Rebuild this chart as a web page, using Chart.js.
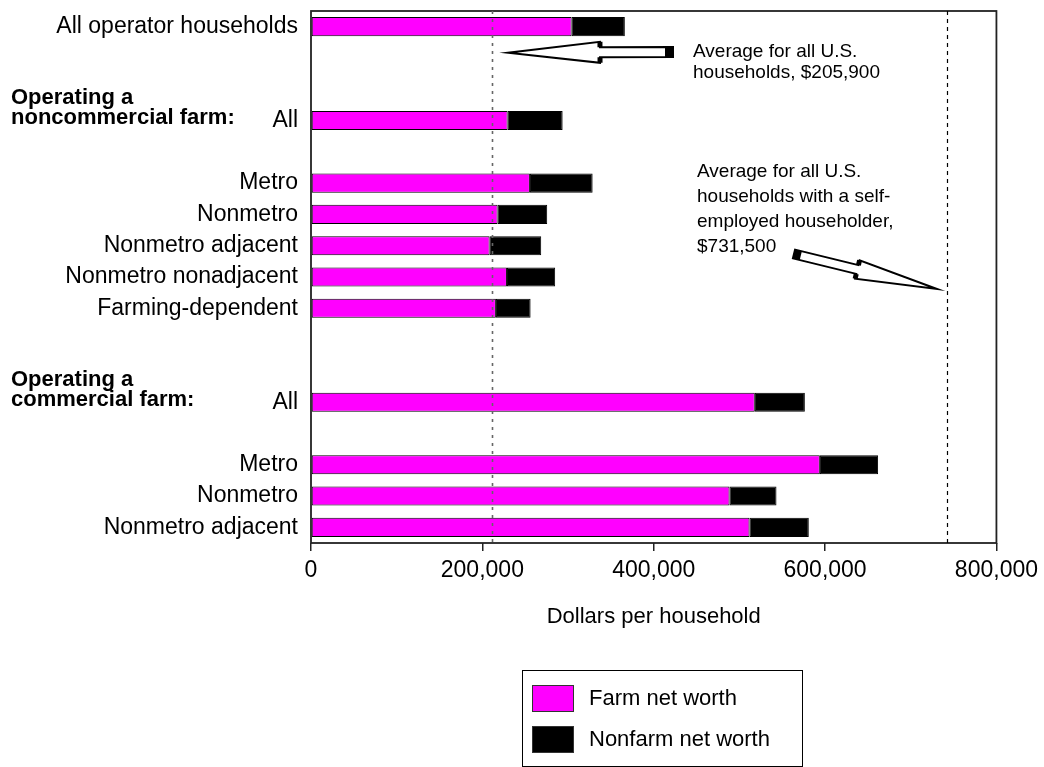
<!DOCTYPE html>
<html>
<head>
<meta charset="utf-8">
<script src="https://cdn.jsdelivr.net/npm/chart.js@4.4.0/dist/chart.umd.min.js"></script>
<style>
  html, body { margin: 0; padding: 0; background: #fff; }
  canvas { display: block; }
</style>
</head>
<body>
<canvas id="worth" width="1044" height="767"></canvas>
<script>
// rows of the chart, blanks are spacer rows
var categories = ["All operator households", "", "", "All", "", "Metro", "Nonmetro", "Nonmetro adjacent",
    "Nonmetro nonadjacent", "Farming-dependent", "", "", "All", "", "Metro", "Nonmetro", "Nonmetro adjacent"];
var farmWorth = [304200, null, null, 229500, null, 255500, 217800, 208500, 228700, 215800, null, null,
    518000, null, 593900, 488500, 511800];
var nonfarmWorth = [62100, null, null, 64200, null, 73200, 57900, 60200, 56300, 40500, null, null,
    58400, null, 68000, 54800, 69200];
var xTicks = [0, 200000, 400000, 600000, 800000];
// dashed reference lines, as drawn
var refLines = [210800, 742400];

var FONT = "'Liberation Sans', Arial, sans-serif";
Chart.defaults.font.family = FONT;
Chart.defaults.color = "#000";

// white block arrow with black tail
function blockArrow(ctx, x0, y0, x1, y1, shaftHalf, headHalf, headLen, tailLen) {
    var dx = x1 - x0, dy = y1 - y0;
    var len = Math.sqrt(dx * dx + dy * dy);
    var ux = dx / len, uy = dy / len;
    var nx = -uy, ny = ux;
    var bx = x1 - ux * headLen, by = y1 - uy * headLen;
    ctx.beginPath();
    ctx.moveTo(x0 + nx * shaftHalf, y0 + ny * shaftHalf);
    ctx.lineTo(bx + nx * shaftHalf, by + ny * shaftHalf);
    ctx.lineTo(bx + nx * headHalf, by + ny * headHalf);
    ctx.lineTo(x1, y1);
    ctx.lineTo(bx - nx * headHalf, by - ny * headHalf);
    ctx.lineTo(bx - nx * shaftHalf, by - ny * shaftHalf);
    ctx.lineTo(x0 - nx * shaftHalf, y0 - ny * shaftHalf);
    ctx.closePath();
    ctx.fillStyle = "#fff";
    ctx.fill();
    ctx.lineWidth = 2;
    ctx.strokeStyle = "#000";
    ctx.lineJoin = "miter";
    ctx.stroke();
    ctx.beginPath();
    ctx.moveTo(x0 + nx * shaftHalf, y0 + ny * shaftHalf);
    ctx.lineTo(x0 + ux * tailLen + nx * shaftHalf, y0 + uy * tailLen + ny * shaftHalf);
    ctx.lineTo(x0 + ux * tailLen - nx * shaftHalf, y0 + uy * tailLen - ny * shaftHalf);
    ctx.lineTo(x0 - nx * shaftHalf, y0 - ny * shaftHalf);
    ctx.closePath();
    ctx.fillStyle = "#000";
    ctx.fill();
    ctx.lineWidth = 5;
    ctx.beginPath();
    ctx.moveTo(bx + nx * shaftHalf, by + ny * shaftHalf);
    ctx.lineTo(bx + nx * headHalf, by + ny * headHalf);
    ctx.moveTo(bx - nx * shaftHalf, by - ny * shaftHalf);
    ctx.lineTo(bx - nx * headHalf, by - ny * headHalf);
    ctx.stroke();
}

var extrasPlugin = {
    id: "extras",
    afterDatasetsDraw: function (chart) {
        var ctx = chart.ctx;
        var a = chart.chartArea;
        var xs = chart.scales.x, ys = chart.scales.y;
        ctx.save();

        // frame
        ctx.strokeStyle = "#222";
        ctx.lineWidth = 1.8;
        ctx.strokeRect(a.left, a.top, a.right - a.left, a.bottom - a.top);

        // reference lines
        var styles = [{ c: "#666", d: [3, 5], w: 1.6 }, { c: "#000", d: [4, 4], w: 1.2 }];
        refLines.forEach(function (v, i) {
            var px = Math.round(xs.getPixelForValue(v)) + 0.5;
            ctx.strokeStyle = styles[i].c;
            ctx.lineWidth = styles[i].w;
            ctx.setLineDash(styles[i].d);
            ctx.beginPath();
            ctx.moveTo(px, a.top);
            ctx.lineTo(px, a.bottom);
            ctx.stroke();
        });
        ctx.setLineDash([]);

        // group headers
        ctx.fillStyle = "#000";
        ctx.font = "bold 22px " + FONT;
        ctx.textAlign = "left";
        ctx.textBaseline = "alphabetic";
        [[3, "noncommercial farm:"], [12, "commercial farm:"]].forEach(function (g) {
            var cy = ys.getPixelForValue(g[0]);
            ctx.fillText("Operating a", 11, cy - 16.5);
            ctx.fillText(g[1], 11, cy + 3.5);
        });

        // notes
        ctx.font = "19px " + FONT;
        ctx.fillText("Average for all U.S.", 693, 57);
        ctx.fillText("households, $205,900", 693, 78);
        var note2 = ["Average for all U.S.", "households with a self-", "employed householder,", "$731,500"];
        note2.forEach(function (t, i) {
            ctx.fillText(t, 697, 176.5 + i * 25.2);
        });
        blockArrow(ctx, 673, 52, 508, 52.7, 5, 10.5, 92, 8);
        blockArrow(ctx, 794, 254, 937, 289, 4.5, 9.5, 82, 7);

        // legend
        var lx = 522, ly = 670;
        ctx.strokeStyle = "#000";
        ctx.lineWidth = 1;
        ctx.strokeRect(lx + 0.5, ly + 0.5, 280, 96);
        ctx.font = "22px " + FONT;
        ctx.textBaseline = "middle";
        chart.data.datasets.forEach(function (ds, i) {
            var sy = 685 + i * 41;
            ctx.fillStyle = ds.backgroundColor;
            ctx.fillRect(532, sy, 42, 27);
            ctx.strokeStyle = "#333";
            ctx.strokeRect(532.5, sy + 0.5, 41, 26);
            ctx.fillStyle = "#000";
            ctx.fillText(ds.label, 589, sy + 14);
        });
        ctx.restore();
    }
};

new Chart(document.getElementById("worth").getContext("2d"), {
    type: "bar",
    data: {
        labels: categories,
        datasets: [{
            label: "Farm net worth",
            data: farmWorth,
            backgroundColor: "#ff00ff",
            borderColor: "#000",
            borderWidth: 1,
            borderSkipped: false
        }, {
            label: "Nonfarm net worth",
            data: nonfarmWorth,
            backgroundColor: "#000",
            borderColor: "#000",
            borderWidth: 1,
            borderSkipped: false
        }]
    },
    options: {
        indexAxis: "y",
        responsive: false,
        animation: false,
        datasets: { bar: { barPercentage: 0.61, categoryPercentage: 1 } },
        layout: { padding: { top: 11, right: 47, bottom: 137, left: 0 } },
        plugins: { legend: { display: false }, tooltip: { enabled: false } },
        scales: {
            x: {
                stacked: true,
                min: 0,
                max: 800000,
                afterBuildTicks: function (s) {
                    s.ticks = xTicks.map(function (v) { return { value: v }; });
                },
                ticks: {
                    color: "#000",
                    font: { size: 23, lineHeight: 1.15 },
                    padding: 6,
                    maxRotation: 0,
                    callback: function (v) { return v.toLocaleString("en-US"); }
                },
                grid: { drawOnChartArea: false, drawTicks: true, tickLength: 8, color: "#222", lineWidth: 1.5 },
                border: { display: false },
                title: {
                    display: true,
                    text: "Dollars per household",
                    color: "#000",
                    font: { size: 22, lineHeight: 1.2 },
                    padding: { top: 20, bottom: 0 }
                },
                afterFit: function (s) { s.height = 87; }
            },
            y: {
                stacked: true,
                grid: { display: false, drawTicks: false },
                border: { display: false },
                ticks: { color: "#000", font: { size: 23 }, padding: 13, autoSkip: false },
                afterFit: function (s) { s.width = 311; s.paddingTop = 0; s.paddingBottom = 0; }
            }
        }
    },
    plugins: [extrasPlugin]
});
</script>
</body>
</html>
